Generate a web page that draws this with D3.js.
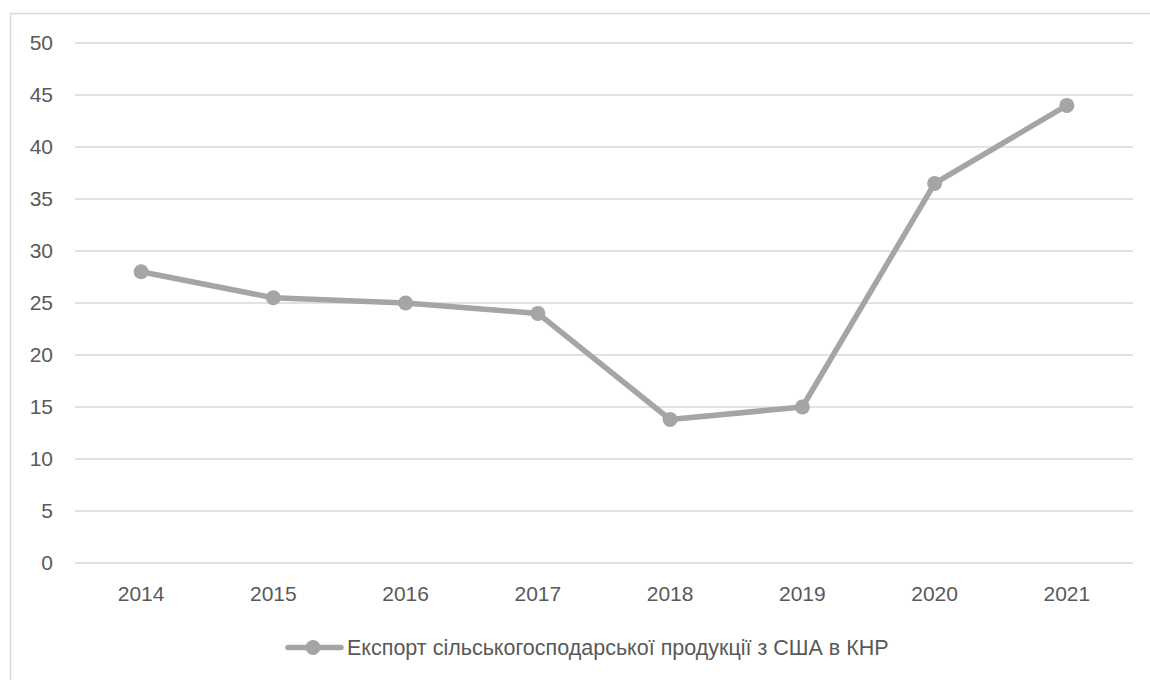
<!DOCTYPE html>
<html>
<head>
<meta charset="utf-8">
<script src="https://cdn.jsdelivr.net/npm/d3@7"></script>
<style>
  body { margin: 0; background: #fff; }
  svg { display: block; font-family: "Liberation Sans", Arial, sans-serif; }
</style>
</head>
<body>
<div id="chart"></div>
<script>
const years = ["2014", "2015", "2016", "2017", "2018", "2019", "2020", "2021"];
const exportValues = [28, 25.5, 25, 24, 13.8, 15, 36.5, 44];
const yTicks = [0, 5, 10, 15, 20, 25, 30, 35, 40, 45, 50];
const seriesName = "Експорт сільськогосподарської продукції з США в КНР";

const W = 1150, H = 680;
const margin = { top: 43, right: 17, bottom: 117, left: 75 };
const lineColor = "#a5a5a5";

const svg = d3.select("#chart").append("svg")
    .attr("width", W)
    .attr("height", H);

// chart area border (clipped at right/bottom like the original)
svg.append("rect")
    .attr("x", 10.5).attr("y", 13.5)
    .attr("width", W + 20).attr("height", H + 20)
    .attr("fill", "none")
    .attr("stroke", "#d9d9d9")
    .attr("stroke-width", 1.5);

const x = d3.scaleBand()
    .domain(years)
    .range([margin.left, W - margin.right]);

const y = d3.scaleLinear()
    .domain([0, 50])
    .range([H - margin.bottom, margin.top]);

// gridlines
svg.append("g")
    .selectAll("line")
    .data(yTicks)
    .join("line")
    .attr("x1", margin.left)
    .attr("x2", W - margin.right)
    .attr("y1", d => y(d))
    .attr("y2", d => y(d))
    .attr("stroke", "#d9d9d9")
    .attr("stroke-width", 1.3);

// y labels
svg.append("g")
    .selectAll("text")
    .data(yTicks)
    .join("text")
    .attr("x", 53)
    .attr("y", d => y(d))
    .attr("dy", "0.35em")
    .attr("text-anchor", "end")
    .attr("fill", "#595959")
    .style("font-size", "21px")
    .text(d => d);

// x labels
svg.append("g")
    .selectAll("text")
    .data(years)
    .join("text")
    .attr("x", d => x(d) + x.bandwidth() / 2)
    .attr("y", H - margin.bottom + 38)
    .attr("text-anchor", "middle")
    .attr("fill", "#595959")
    .style("font-size", "21px")
    .text(d => d);

const pts = years.map((yr, i) => [x(yr) + x.bandwidth() / 2, y(exportValues[i])]);

svg.append("path")
    .datum(pts)
    .attr("d", d3.line())
    .attr("fill", "none")
    .attr("stroke", lineColor)
    .attr("stroke-width", 5.5)
    .attr("stroke-linejoin", "round");

svg.append("g")
    .selectAll("circle")
    .data(pts)
    .join("circle")
    .attr("cx", d => d[0])
    .attr("cy", d => d[1])
    .attr("r", 7.5)
    .attr("fill", lineColor);

// legend
const legend = svg.append("g").attr("transform", "translate(0,647.5)");
legend.append("line")
    .attr("x1", 288).attr("x2", 341)
    .attr("y1", 0).attr("y2", 0)
    .attr("stroke", lineColor)
    .attr("stroke-width", 5.5)
    .attr("stroke-linecap", "round");
legend.append("circle")
    .attr("cx", 313).attr("cy", 0).attr("r", 7.5)
    .attr("fill", lineColor);
legend.append("text")
    .attr("x", 347).attr("y", 0)
    .attr("dy", "0.35em")
    .attr("fill", "#595959")
    .style("font-size", "21.5px")
    .text(seriesName);
</script>
</body>
</html>
